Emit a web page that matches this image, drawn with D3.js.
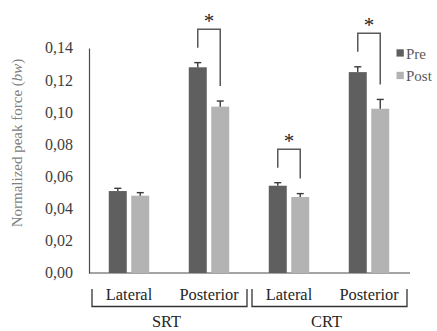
<!DOCTYPE html>
<html>
<head>
<meta charset="utf-8">
<script src="https://cdn.jsdelivr.net/npm/d3@7"></script>
<style>
  body { margin: 0; background: #fff; }
</style>
</head>
<body>
<svg id="chart" width="437" height="331"></svg>
<script>
// groups and sites
const groups = ['SRT', 'CRT'];
const sites = ['Lateral', 'Posterior'];
const series = ['Pre', 'Post'];

// mean values, one per group x site (SRT Lat, SRT Post, CRT Lat, CRT Post)
const preMean = [0.051, 0.128, 0.0543, 0.125];
const postMean = [0.0481, 0.1035, 0.0473, 0.1022];
// upper error bars
const preErr = [0.0017, 0.0029, 0.0019, 0.0033];
const postErr = [0.0019, 0.0035, 0.0021, 0.0058];
// significant Pre vs Post
const signif = [false, true, true, true];

const yTicks = [0, 0.02, 0.04, 0.06, 0.08, 0.10, 0.12, 0.14];

const colors = { Pre: '#5f5f5f', Post: '#b3b3b3' };
const FONT = '"Liberation Serif"';
const LABEL_SIZE = '16.4px';

const svg = d3.select('#chart');

const cells = [];
groups.forEach(g => sites.forEach(s => cells.push({ group: g, site: s, key: g + '-' + s })));
cells.forEach((c, i) => {
  c.values = [
    { series: 'Pre', value: preMean[i], err: preErr[i] },
    { series: 'Post', value: postMean[i], err: postErr[i] }
  ];
  c.sig = signif[i];
});

const y = d3.scaleLinear().domain([0, 0.14]).range([273, 48]);
const x0 = d3.scaleBand().domain(cells.map(c => c.key)).range([89, 409]);
const x1 = d3.scaleBand().domain(series).range([0, x0.bandwidth()])
  .paddingInner(0.2).paddingOuter(0.88);

// comma decimal
const locale = d3.formatLocale({ decimal: ',', thousands: '.', grouping: [3], currency: ['', ''] });
const fmt = locale.format('.2f');

// y axis
const yAxis = svg.append('g')
  .attr('transform', 'translate(89,0)')
  .call(d3.axisLeft(y).tickValues(yTicks).tickSize(0).tickFormat(''));
yAxis.select('.domain').attr('stroke', '#4a4a4a').attr('stroke-width', 1.2);

svg.selectAll('.ytick')
  .data(yTicks)
  .enter().append('text')
  .attr('class', 'ytick')
  .attr('x', 73)
  .attr('y', d => y(d) + 5.4)
  .attr('text-anchor', 'end')
  .attr('fill', '#404040')
  .style('font-family', FONT)
  .style('font-size', '16px')
  .text(fmt);

// baseline
svg.append('line')
  .attr('x1', 89).attr('x2', 410)
  .attr('y1', y(0)).attr('y2', y(0))
  .attr('stroke', '#4a4a4a').attr('stroke-width', 1.2);

// y label
const ylab = svg.append('text')
  .attr('transform', 'translate(22,143) rotate(-90)')
  .attr('text-anchor', 'middle')
  .attr('fill', '#808080')
  .style('font-family', FONT)
  .style('font-size', '15px')
  .text('Normalized peak force (');
ylab.append('tspan').style('font-style', 'italic').style('font-family', FONT).text('bw');
ylab.append('tspan').style('font-family', FONT).text(')');

// bars
const cell = svg.selectAll('.cell')
  .data(cells)
  .enter().append('g')
  .attr('class', 'cell')
  .attr('transform', d => `translate(${x0(d.key)},0)`);

cell.selectAll('rect')
  .data(d => d.values)
  .enter().append('rect')
  .attr('x', d => x1(d.series))
  .attr('width', x1.bandwidth())
  .attr('y', d => y(d.value))
  .attr('height', d => y(0) - y(d.value))
  .attr('fill', d => colors[d.series]);

// error bars (upper only)
const eb = cell.selectAll('.err')
  .data(d => d.values)
  .enter().append('g')
  .attr('class', 'err')
  .attr('stroke', '#3a3a3a')
  .attr('stroke-width', 1.4);
eb.append('line')
  .attr('x1', d => x1(d.series) + x1.bandwidth() / 2)
  .attr('x2', d => x1(d.series) + x1.bandwidth() / 2)
  .attr('y1', d => y(d.value))
  .attr('y2', d => y(d.value + d.err));
eb.append('line')
  .attr('x1', d => x1(d.series) + x1.bandwidth() / 2 - 3.5)
  .attr('x2', d => x1(d.series) + x1.bandwidth() / 2 + 3.5)
  .attr('y1', d => y(d.value + d.err))
  .attr('y2', d => y(d.value + d.err));

// significance brackets
cell.filter(d => d.sig).each(function (d) {
  const g = d3.select(this);
  const cx = d.values.map(v => x1(v.series) + x1.bandwidth() / 2);
  const bottoms = d.values.map(v => y(v.value + v.err) - 15);
  const top = Math.min(...bottoms) - 18.5;
  g.append('path')
    .attr('d', `M${cx[0]},${bottoms[0]}V${top}H${cx[1]}V${bottoms[1]}`)
    .attr('fill', 'none')
    .attr('stroke', '#595959')
    .attr('stroke-width', 1.5);
  g.append('text')
    .attr('x', (cx[0] + cx[1]) / 2)
    .attr('y', top - 1)
    .attr('text-anchor', 'middle')
    .attr('fill', '#262626')
    .style('font-family', FONT)
    .style('font-size', '21px')
    .text('*');
});

// site labels
svg.selectAll('.site')
  .data(cells)
  .enter().append('text')
  .attr('class', 'site')
  .attr('x', d => x0(d.key) + x0.bandwidth() / 2)
  .attr('y', 300)
  .attr('text-anchor', 'middle')
  .attr('fill', '#262626')
  .style('font-family', FONT)
  .style('font-size', LABEL_SIZE)
  .text(d => d.site);

// group brackets
groups.forEach(gName => {
  const keys = cells.filter(c => c.group === gName).map(c => c.key);
  const left = x0(keys[0]) + 3;
  const right = x0(keys[keys.length - 1]) + x0.bandwidth() - 2;
  svg.append('path')
    .attr('d', `M${left},289V306.5H${right}V289`)
    .attr('fill', 'none')
    .attr('stroke', '#333')
    .attr('stroke-width', 1.3);
  svg.append('text')
    .attr('x', (left + right) / 2 - 3)
    .attr('y', 327)
    .attr('text-anchor', 'middle')
    .attr('fill', '#262626')
    .style('font-family', FONT)
    .style('font-size', LABEL_SIZE)
    .text(gName);
});

// legend
const legend = svg.selectAll('.legend')
  .data(series)
  .enter().append('g')
  .attr('class', 'legend')
  .attr('transform', (d, i) => `translate(396.5,${53 + i * 22.5})`);
legend.append('rect')
  .attr('x', 0).attr('y', -3.7)
  .attr('width', 7.3).attr('height', 7.3)
  .attr('fill', d => colors[d]);
legend.append('text')
  .attr('x', 9.5).attr('y', 5.5)
  .attr('fill', '#595959')
  .style('font-family', FONT)
  .style('font-size', '15px')
  .text(d => d);
</script>
</body>
</html>
